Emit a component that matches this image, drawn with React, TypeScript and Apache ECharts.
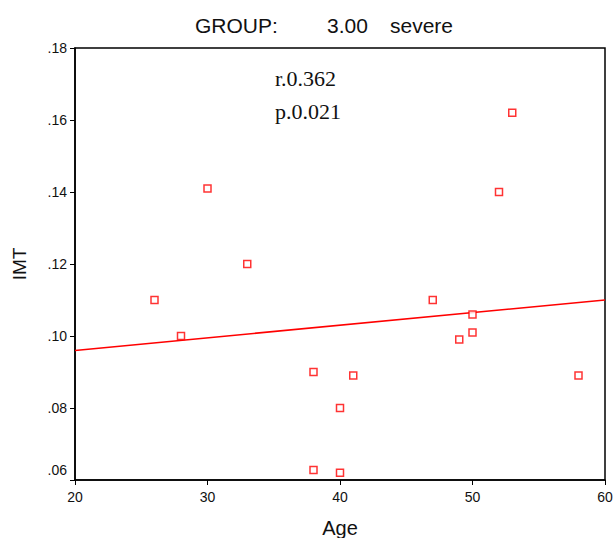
import React, { useEffect, useRef } from "react";
import * as echarts from "echarts";

const ages = [26, 28, 30, 33, 38, 38, 40, 40, 41, 47, 49, 50, 50, 52, 53, 58];
const imt = [0.110, 0.100, 0.141, 0.120, 0.090, 0.0628, 0.080, 0.062, 0.089, 0.110, 0.099, 0.106, 0.101, 0.140, 0.162, 0.089];
const fitAges = [20, 60];
const fitImt = [0.096, 0.110];
const titleParts = ["GROUP:", "3.00", "severe"];
const statLines = ["r.0.362", "p.0.021"];

export default function App() {
  const ref = useRef<HTMLDivElement>(null);
  useEffect(() => {
    if (!ref.current) return;
    const chart = echarts.init(ref.current, null, { renderer: "svg" });
    const sans = "'Liberation Sans', Arial, sans-serif";
    const tStyle = { fontFamily: sans, fontSize: 21, color: "#111" };
    chart.setOption({
      animation: false,
      backgroundColor: "#ffffff",
      title: {
        text: `{a|${titleParts[0]}}{b|${titleParts[1]}}{c|${titleParts[2]}}`,
        left: 190,
        top: 10,
        textStyle: {
          fontFamily: sans,
          fontSize: 21,
          fontWeight: "normal",
          color: "#111",
          rich: {
            a: { ...tStyle, width: 132 },
            b: { ...tStyle, width: 63 },
            c: { ...tStyle },
          },
        },
      },
      grid: {
        left: 75,
        right: 10,
        top: 48,
        bottom: 58,
        containLabel: false,
        outerBoundsMode: "none",
        show: true,
        borderColor: "#000",
        borderWidth: 1.5,
      },
      xAxis: {
        type: "value",
        min: 20,
        max: 60,
        interval: 10,
        name: "Age",
        nameLocation: "middle",
        nameGap: 38,
        nameTextStyle: { fontFamily: sans, fontSize: 20, color: "#111" },
        axisLine: { show: true, lineStyle: { color: "#000", width: 1.5 } },
        axisTick: { show: true, length: 5, lineStyle: { color: "#000" } },
        axisLabel: { fontFamily: sans, fontSize: 14, color: "#111", margin: 10 },
        splitLine: { show: false },
      },
      yAxis: {
        type: "value",
        min: 0.06,
        max: 0.18,
        interval: 0.02,
        name: "IMT",
        nameLocation: "middle",
        nameGap: 46,
        nameTextStyle: { fontFamily: sans, fontSize: 19, color: "#111" },
        axisLine: { show: true, lineStyle: { color: "#000", width: 1.5 } },
        axisTick: { show: true, length: 5, lineStyle: { color: "#000" } },
        axisLabel: {
          fontFamily: sans,
          fontSize: 14,
          color: "#111",
          margin: 8,
          formatter: (v: number) => {
            const s = v.toFixed(2).replace(/^0/, "");
            return Math.abs(v - 0.06) < 1e-9 ? "{low|" + s + "}" : s;
          },
          rich: { low: { fontFamily: sans, fontSize: 14, color: "#111", padding: [0, 0, 20, 0] } },
        },
        splitLine: { show: false },
      },
      graphic: [
        {
          type: "text",
          left: 275,
          top: 62,
          style: {
            text: statLines.join("\n"),
            font: "22px 'Liberation Serif', 'Times New Roman', serif",
            lineHeight: 33,
            fill: "#111",
          },
        },
      ],
      series: [
        {
          type: "line",
          data: fitAges.map((a, i) => [a, fitImt[i]]),
          showSymbol: false,
          symbol: "none",
          lineStyle: { color: "#ff0000", width: 1.5 },
          silent: true,
          z: 1,
        },
        {
          type: "scatter",
          data: ages.map((a, i) => [a, imt[i]]),
          symbol: "rect",
          symbolSize: 7,
          itemStyle: { color: "#ffffff", borderColor: "#ff0000", borderWidth: 1.5 },
          z: 2,
        },
      ],
    });
    return () => chart.dispose();
  }, []);
  return <div ref={ref} style={{ width: 615, height: 538, position: "absolute", left: 0, top: 0 }} />;
}
